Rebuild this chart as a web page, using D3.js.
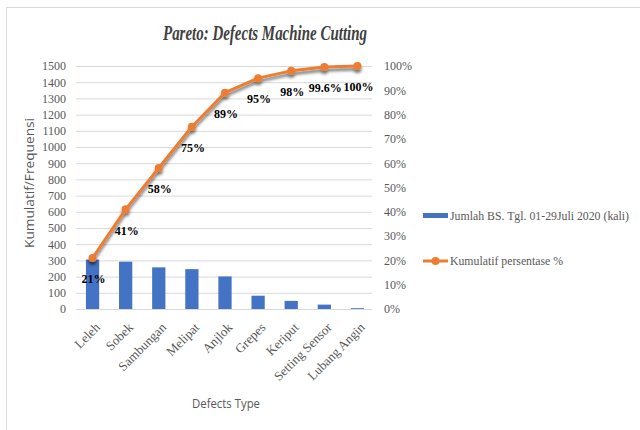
<!DOCTYPE html>
<html><head><meta charset="utf-8">
<script src="https://cdn.jsdelivr.net/npm/d3@7"></script>
<style>body{margin:0;background:#fff}svg{display:block}</style>
</head><body>
<svg id="c" width="640" height="430"></svg>
<script>
const categories = ["Leleh","Sobek","Sambungan","Melipat","Anjlok","Grepes","Keriput","Setting Sensor","Lubang Angin"];
const counts = [305, 292, 257, 246, 201, 82, 50, 27, 5];
const cumulativePct = [21, 41, 58, 75, 89, 95, 98, 99.6, 100];
const leftTicks = [0,100,200,300,400,500,600,700,800,900,1000,1100,1200,1300,1400,1500];
const rightTicks = [0,10,20,30,40,50,60,70,80,90,100];
const seriesNames = ["Jumlah BS. Tgl. 01-29Juli 2020 (kali)", "Kumulatif persentase %"];
const title = "Pareto: Defects Machine Cutting";

const svg = d3.select("#c");
const serif = "'Liberation Serif','Times New Roman',serif";
const sans = "'Open Sans','Noto Sans',sans-serif";
const gray = "#595959";

// frame
svg.append("rect").attr("x",6.5).attr("y",7.5).attr("width",700).attr("height",500)
  .attr("fill","#fff").attr("stroke","#d9d9d9");

const defs = svg.append("defs");
const f = defs.append("filter").attr("id","sh").attr("x","-10%").attr("y","-10%").attr("width","130%").attr("height","140%");
f.append("feDropShadow").attr("dx",0).attr("dy",3).attr("stdDeviation",1.8).attr("flood-color","#000").attr("flood-opacity",0.55);

const x0 = 76, x1 = 374, yTop = 66, yBot = 309;
const x = d3.scaleBand().domain(categories).range([x0,x1]).paddingInner(0.6).paddingOuter(0.3);
const xc = d => x(d) + x.bandwidth()/2;
const yL = d3.scaleLinear().domain([0,1500]).range([yBot,yTop]);
const yR = d3.scaleLinear().domain([0,100]).range([yBot,yTop]);

// gridlines
svg.append("g").selectAll("line").data(leftTicks).join("line")
  .attr("x1",x0).attr("x2",372).attr("y1",d=>yL(d)+0.5).attr("y2",d=>yL(d)+0.5)
  .attr("stroke","#d9d9d9").attr("stroke-width",1);

// left axis
const la = svg.append("g").attr("transform",`translate(66,0)`)
  .call(d3.axisLeft(yL).tickValues(leftTicks).tickSize(0).tickPadding(0).tickFormat(d3.format("d")));
la.select(".domain").remove();
la.selectAll("text").attr("font-family",serif).attr("font-size",12).attr("fill",gray);

// right axis
const ra = svg.append("g").attr("transform",`translate(384,0)`)
  .call(d3.axisRight(yR).tickValues(rightTicks).tickSize(0).tickPadding(0).tickFormat(d=>d+"%"));
ra.select(".domain").remove();
ra.selectAll("text").attr("font-family",serif).attr("font-size",12).attr("fill",gray);

// bars
svg.append("g").selectAll("rect").data(categories).join("rect")
  .attr("x",d=>x(d)).attr("width",x.bandwidth())
  .attr("y",(d,i)=>yL(counts[i])).attr("height",(d,i)=>yBot-yL(counts[i]))
  .attr("fill","#4472C4");

// line
const lg = svg.append("g").attr("filter","url(#sh)");
lg.append("path").datum(cumulativePct)
  .attr("d", d3.line().x((d,i)=>xc(categories[i])).y(d=>yR(d)))
  .attr("fill","none").attr("stroke","#ED7D31").attr("stroke-width",3).attr("stroke-linejoin","round");
lg.selectAll("circle").data(cumulativePct).join("circle")
  .attr("cx",(d,i)=>xc(categories[i])).attr("cy",d=>yR(d)).attr("r",4).attr("fill","#ED7D31");

// data labels
svg.append("g").selectAll("text").data(cumulativePct).join("text")
  .attr("x",(d,i)=>xc(categories[i])+1).attr("y",d=>yR(d)+21).attr("dy","0.35em")
  .attr("text-anchor","middle").attr("font-family",serif).attr("font-weight","bold")
  .attr("font-size",12).attr("fill","#000").text(d=>d+"%");

// x tick labels
svg.append("g").selectAll("text").data(categories).join("text")
  .attr("transform",d=>`translate(${xc(d)+5},325) rotate(-45)`)
  .attr("text-anchor","end").attr("dy","0.35em")
  .attr("font-family",serif).attr("font-size",13).attr("fill",gray).text(d=>d);

// title
svg.append("text").attr("x",265).attr("y",40).attr("text-anchor","middle")
  .attr("font-family",serif).attr("font-style","italic").attr("font-weight","bold").attr("font-size",22).attr("fill","#404040")
  .attr("textLength",204).attr("lengthAdjust","spacingAndGlyphs").text(title);

// axis titles
svg.append("text").attr("transform","translate(34,183) rotate(-90)").attr("text-anchor","middle")
  .attr("font-family",sans).attr("font-size",13).attr("fill",gray)
  .attr("textLength",130).attr("lengthAdjust","spacingAndGlyphs").text("Kumulatif/Frequensi");
svg.append("text").attr("x",226).attr("y",408).attr("text-anchor","middle")
  .attr("font-family",sans).attr("font-size",13).attr("fill",gray)
  .attr("textLength",68).attr("lengthAdjust","spacingAndGlyphs").text("Defects Type");

// legend
const leg = svg.append("g");
leg.append("rect").attr("x",423).attr("y",213).attr("width",25).attr("height",5).attr("fill","#4472C4");
leg.append("text").attr("x",450).attr("y",215.5).attr("dy","0.35em").attr("font-family",serif)
  .attr("font-size",12).attr("fill",gray).attr("textLength",179).attr("lengthAdjust","spacingAndGlyphs").text(seriesNames[0]);
leg.append("line").attr("x1",423).attr("x2",448).attr("y1",261).attr("y2",261).attr("stroke","#ED7D31").attr("stroke-width",3);
leg.append("circle").attr("cx",435.5).attr("cy",261).attr("r",4).attr("fill","#ED7D31");
leg.append("text").attr("x",450).attr("y",261).attr("dy","0.35em").attr("font-family",serif)
  .attr("font-size",12).attr("fill",gray).attr("textLength",113).attr("lengthAdjust","spacingAndGlyphs").text(seriesNames[1]);
</script>
</body></html>
